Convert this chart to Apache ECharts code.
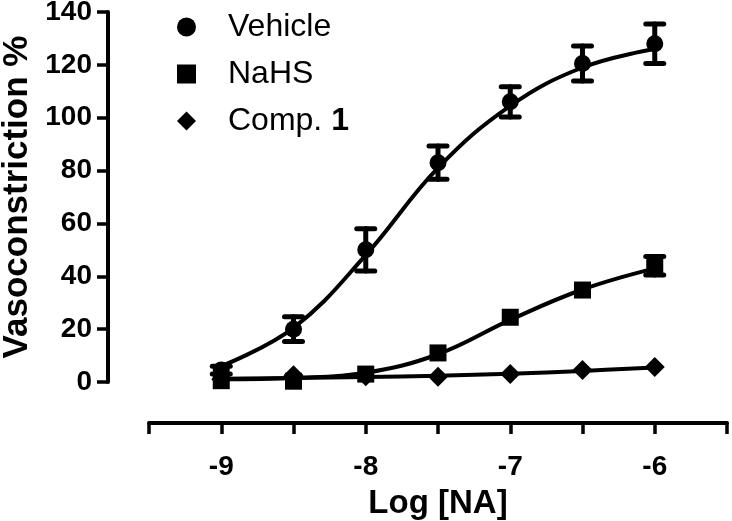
<!DOCTYPE html>
<html>
<head>
<meta charset="utf-8">
<script src="https://cdn.jsdelivr.net/npm/echarts@6/dist/echarts.min.js"></script>
<style>
html,body{margin:0;padding:0;background:#fff;}
#chart{width:732px;height:521px;}
</style>
</head>
<body>
<div id="chart"></div>
<script>
// ---- data ----
var logNA = [-9, -8.5, -8, -7.5, -7, -6.5, -6];
// measured means and SEM
var vehicleMean = [4.5, 20, 50, 83, 106, 120.5, 128];
var vehicleErr  = [1.5, 4.7, 8, 6.3, 5.7, 6.6, 7.5];
var nahsMean = [0.5, 0.3, 3, 11, 24.5, 34.8, 44];
var nahsErr  = [0, 0, 0, 0, 0, 0, 3.5];
var compMean = [1, 2.6, 2.2, 2, 3, 4.5, 5.7];
// fitted curves
var vehicleFit = [6, 20.5, 48, 81, 104.5, 119, 126];
var nahsFit    = [1, 1.5, 3.5, 10.5, 23.5, 35, 43];
var compFit    = [1.2, 1.5, 1.9, 2.4, 3.1, 4.2, 5.5];
var yTicks = [0, 20, 40, 60, 80, 100, 120, 140];
var xTicks = [-9, -8, -7, -6];

var FONT = '"Liberation Sans", Arial, sans-serif';

function pairs(xs, ys) { return xs.map(function (x, i) { return [x, ys[i]]; }); }
function errData(xs, m, e) {
  return xs.map(function (x, i) { return [x, m[i] - e[i], m[i] + e[i]]; })
           .filter(function (d) { return d[2] - d[1] > 0; });
}

function errRender(params, api) {
  var lo = api.coord([api.value(0), api.value(1)]);
  var hi = api.coord([api.value(0), api.value(2)]);
  var hw = 9;
  var st = { stroke: '#000', lineWidth: 5, lineCap: 'round' };
  return {
    type: 'group',
    children: [
      { type: 'line', shape: { x1: lo[0], y1: lo[1], x2: hi[0], y2: hi[1] }, style: st },
      { type: 'line', shape: { x1: lo[0] - hw, y1: lo[1], x2: lo[0] + hw, y2: lo[1] }, style: st },
      { type: 'line', shape: { x1: hi[0] - hw, y1: hi[1], x2: hi[0] + hw, y2: hi[1] }, style: st }
    ]
  };
}

function curve(name, data) {
  return {
    type: 'line', name: name, smooth: 0.4, showSymbol: false, symbol: 'none',
    lineStyle: { color: '#000', width: 4 }, itemStyle: { color: '#000' },
    emphasis: { disabled: true }, silent: true, z: 2, data: data
  };
}
function marks(name, symbol, size, data) {
  return {
    type: 'scatter', name: name, symbol: symbol, symbolSize: size,
    itemStyle: { color: '#000', opacity: 1 }, emphasis: { disabled: true },
    silent: true, z: 3, data: data
  };
}

var chart = echarts.init(document.getElementById('chart'));
chart.setOption({
  animation: false,
  textStyle: { fontFamily: FONT, color: '#000' },
  grid: { left: 149, right: 5, top: 12, bottom: 139, containLabel: false, outerBoundsMode: 'none' },
  legend: {
    orient: 'vertical', left: 172, top: 6, itemGap: 15,
    itemWidth: 19, itemHeight: 19,
    selectedMode: false,
    textStyle: {
      fontFamily: FONT, fontSize: 32, color: '#000', padding: [0, 0, 0, 27],
      rich: {
        n: { fontFamily: FONT, fontSize: 32, color: '#000' },
        b: { fontFamily: FONT, fontSize: 32, color: '#000', fontWeight: 'bold' }
      }
    },
    formatter: function (name) {
      if (name === 'Comp. 1') return '{n|Comp. }{b|1}';
      return '{n|' + name + '}';
    },
    data: [
      { name: 'Vehicle', icon: 'circle', itemStyle: { color: '#000' } },
      { name: 'NaHS', icon: 'rect', itemStyle: { color: '#000' } },
      { name: 'Comp. 1', icon: 'diamond', itemStyle: { color: '#000' } }
    ]
  },
  xAxis: {
    type: 'value', min: -9.5, max: -5.5, interval: 0.5, offset: 41,
    axisLine: { show: true, onZero: false, lineStyle: { color: '#000', width: 4 } },
    axisTick: { show: true, length: 11, lineStyle: { color: '#000', width: 3.5 } },
    splitLine: { show: false },
    axisLabel: {
      margin: 30, fontSize: 28, fontWeight: 'bold', color: '#000', fontFamily: FONT,
      showMinLabel: true, showMaxLabel: true,
      formatter: function (v) { return xTicks.indexOf(v) >= 0 ? String(v) : ''; }
    },
    name: 'Log [NA]', nameLocation: 'middle', nameGap: 64,
    nameTextStyle: { fontSize: 33, fontWeight: 'bold', color: '#000', fontFamily: FONT }
  },
  yAxis: {
    type: 'value', min: 0, max: 140, interval: 20, offset: 41,
    axisLine: { show: true, lineStyle: { color: '#000', width: 4 } },
    axisTick: { show: true, length: 11, lineStyle: { color: '#000', width: 3.5 } },
    splitLine: { show: false },
    axisLabel: {
      margin: 16, fontSize: 28, fontWeight: 'bold', color: '#000', fontFamily: FONT,
      formatter: function (v) { return yTicks.indexOf(v) >= 0 ? String(v) : ''; }
    },
    name: 'Vasoconstriction %', nameLocation: 'middle', nameGap: 71, nameRotate: 90,
    nameTextStyle: { fontSize: 35, fontWeight: 'bold', color: '#000', fontFamily: FONT }
  },
  series: [
    curve('fitV', pairs(logNA, vehicleFit)),
    curve('fitN', pairs(logNA, nahsFit)),
    curve('fitC', pairs(logNA, compFit)),
    marks('Vehicle', 'circle', 17, pairs(logNA, vehicleMean)),
    marks('NaHS', 'rect', 17, pairs(logNA, nahsMean)),
    marks('Comp. 1', 'diamond', 20, pairs(logNA, compMean)),
    { type: 'custom', name: 'errV', renderItem: errRender, data: errData(logNA, vehicleMean, vehicleErr), z: 4, silent: true },
    { type: 'custom', name: 'errN', renderItem: errRender, data: errData(logNA, nahsMean, nahsErr), z: 4, silent: true }
  ]
});
</script>
</body>
</html>
